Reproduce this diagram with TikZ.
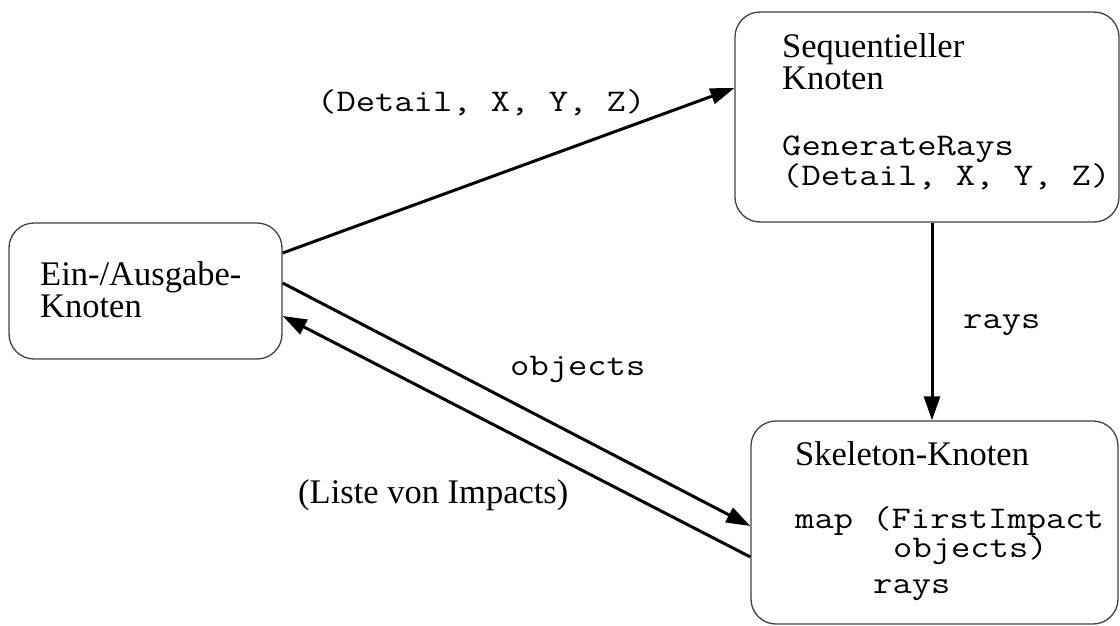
\documentclass[tikz,border=0pt]{standalone}
\usepackage{fontspec}
\setmainfont{Liberation Serif}
\setmonofont[FakeStretch=1.19]{Latin Modern Mono}
\usetikzlibrary{arrows.meta}
\begin{document}
\begin{tikzpicture}[x=1pt,y=-1pt,
  box/.style={draw=black!75, line width=1.3pt, rounded corners=25pt, inner sep=0pt},
  flow/.style={line width=3pt, -{Triangle[length=24pt,width=16pt]}},
  rm/.style={inner sep=0pt, anchor=base west, font=\fontsize{34.5}{34}\selectfont},
  tt/.style={inner sep=0pt, anchor=base west, font=\fontsize{31.5}{30}\selectfont\ttfamily},
]
\useasboundingbox (0,0) rectangle (1120,626);

% boxes
\node[box, minimum width=273pt, minimum height=136pt] (io) at (145.5,291) {};
\node[box, minimum width=384pt, minimum height=210pt] (seq) at (927,117) {};
\node[box, minimum width=367pt, minimum height=203pt] (skel) at (934.5,522.5) {};

% box contents
\node[rm] (ioA) at (40,285) {Ein-/Ausgabe-};
\node[rm] (ioB) at (40,317) {Knoten};

\node[rm] (seqA) at (782,58) {Sequentieller};
\node[rm] (seqB) at (782,90) {Knoten};
\node[tt] (seqC) at (782,155) {GenerateRays};
\node[tt] (seqD) at (782,185) {(Detail, X, Y, Z)};

\node[rm] (skA) at (795,465) {Skeleton-Knoten};
\node[tt] (skB) at (795,528) {map (FirstImpact};
\node[tt] (skC) at (893,557) {objects)};
\node[tt] (skD) at (873,593) {rays};

% connectors
\draw[flow] ([yshift=38pt]io.east) -- ([yshift=29pt]seq.west);
\draw[flow] ([yshift=8pt]io.east) -- ([yshift=-3.5pt]skel.west);
\draw[flow] ([yshift=-34.5pt]skel.west) -- ([yshift=-25pt]io.east);
\draw[flow] ([xshift=5pt]seq.south) -- ([xshift=-2.5pt]skel.north);

% connector labels
\node[tt] (l1) at (317,112) {(Detail, X, Y, Z)};
\node[tt] (l2) at (510,375) {objects};
\node[tt] (l3) at (963,328) {rays};
\node[rm] (l4) at (298,503) {(Liste von Impacts)};
\end{tikzpicture}
\end{document}
